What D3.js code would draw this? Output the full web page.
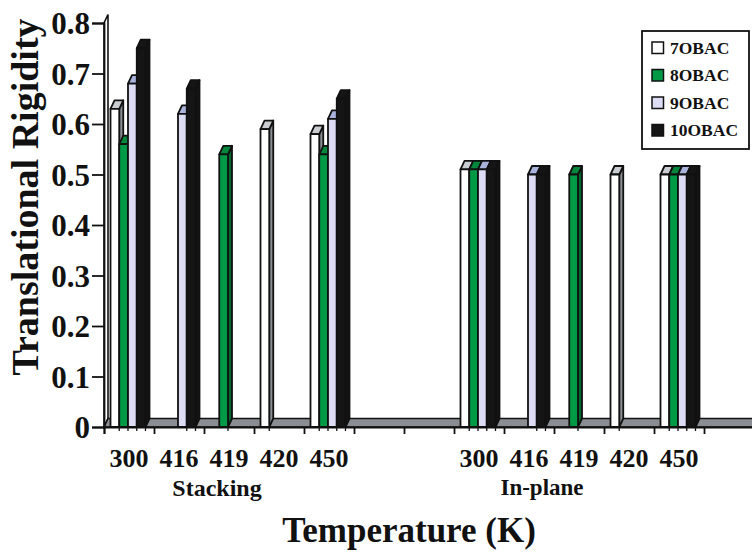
<!DOCTYPE html>
<html lang="en">
<head>
    <meta charset="UTF-8">
    <title>Translational Rigidity</title>
    <script src="https://d3js.org/d3.v7.min.js"></script>
    <style>
        body { margin: 0; background: #fff; }
        svg { display: block; font-family: "Liberation Serif", "Times New Roman", serif; font-weight: bold; }
    </style>
</head>
<body>
    <svg id="chart" width="752" height="552"></svg>

    <script>
        // data
        const temps = ["300", "416", "419", "420", "450"];
        const groups = ["Stacking", "In-plane"];
        const seriesNames = ["7OBAC", "8OBAC", "9OBAC", "10OBAC"];

        // values per series, one entry per temperature (null = no bar)
        const stacking7 = [0.63, null, null, 0.59, 0.58];
        const stacking8 = [0.56, null, 0.54, null, 0.54];
        const stacking9 = [0.68, 0.62, null, null, 0.61];
        const stacking10 = [0.75, 0.67, null, null, 0.65];

        const inplane7 = [0.51, null, null, 0.50, 0.50];
        const inplane8 = [0.51, null, 0.50, null, 0.50];
        const inplane9 = [0.51, 0.50, null, null, 0.50];
        const inplane10 = [0.51, 0.50, null, null, 0.50];

        const yTicks = [0, 0.1, 0.2, 0.3, 0.4, 0.5, 0.6, 0.7, 0.8];

        function program() {
            const svg = d3.select("#chart");

            // 13 slots along the axis: 5 stacking, 2 empty, 5 in-plane, 1 empty
            const slots = d3.range(13);
            const slotOf = (g, t) => g * 7 + t;

            const x = d3.scaleBand().domain(slots).range([104, 754]);
            const inner = d3.scaleBand().domain(seriesNames).range([6.5, 41.5]);
            const y = d3.scaleLinear().domain([0, 0.8]).range([427, 23]);

            const dx = 4, dy = 8.5; // depth offset for the 3D look
            const y0 = y(0);
            const ink = "#111";

            const colors = {
                "7OBAC": { front: "#ffffff", top: "#c9cdd1", side: "#8b8f94" },
                "8OBAC": { front: "#009a46", top: "#00873c", side: "#006a2e" },
                "9OBAC": { front: "#dcdcf5", top: "#a9b3dc", side: "#8b8fa8" },
                "10OBAC": { front: "#151515", top: "#151515", side: "#151515" }
            };

            const table = [
                [stacking7, stacking8, stacking9, stacking10],
                [inplane7, inplane8, inplane9, inplane10]
            ];

            const bars = [];
            groups.forEach((g, gi) => {
                temps.forEach((t, ti) => {
                    seriesNames.forEach((s, si) => {
                        const v = table[gi][si][ti];
                        if (v != null) bars.push({ slot: slotOf(gi, ti), series: s, value: v });
                    });
                });
            });

            // back wall along the y axis
            const xl = x.range()[0];
            svg.append("path")
                .attr("d", `M${xl},${y0}L${xl},${y(0.8)}L${xl + dx},${y(0.8) - dy}L${xl + dx},${y0 - dy}Z`)
                .attr("fill", "#fff").attr("stroke", ink).attr("stroke-width", 1.6);

            // floor
            const xr = x.range()[1];
            svg.append("path")
                .attr("d", `M${xl},${y0}L${xr},${y0}L${xr + dx},${y0 - dy}L${xl + dx},${y0 - dy}Z`)
                .attr("fill", "#8a8e93").attr("stroke", ink).attr("stroke-width", 1.6);

            // bars, left to right so each covers the side of the previous one
            const barG = svg.append("g")
                .attr("stroke", ink).attr("stroke-width", 1.8).attr("stroke-linejoin", "round");
            bars.forEach(b => {
                const bx = x(b.slot) + inner(b.series);
                const w = inner.bandwidth();
                const by = y(b.value);
                const c = colors[b.series];
                barG.append("path")
                    .attr("d", `M${bx + w},${by}L${bx + w + dx},${by - dy}L${bx + w + dx},${y0 - dy}L${bx + w},${y0}Z`)
                    .attr("fill", c.side);
                barG.append("path")
                    .attr("d", `M${bx},${by}L${bx + dx},${by - dy}L${bx + w + dx},${by - dy}L${bx + w},${by}Z`)
                    .attr("fill", c.top);
                barG.append("rect")
                    .attr("x", bx).attr("y", by)
                    .attr("width", w).attr("height", y0 - by)
                    .attr("fill", c.front);
                // small tick below the bar edge
                barG.append("line")
                    .attr("x1", bx + w).attr("x2", bx + w)
                    .attr("y1", y0).attr("y2", y0 + 4)
                    .attr("stroke-width", 1.3);
            });

            // x axis
            const xAxis = svg.append("g")
                .attr("transform", `translate(0,${y0})`)
                .call(d3.axisBottom(d3.scaleLinear().domain([0, 13]).range([xl, xr]))
                    .tickValues(d3.range(14)).tickSize(7).tickFormat(""));
            xAxis.select(".domain").attr("stroke", ink).attr("stroke-width", 1.8);
            xAxis.selectAll(".tick line").attr("stroke", ink).attr("stroke-width", 1.8);

            // temperature labels
            groups.forEach((g, gi) => {
                temps.forEach((t, ti) => {
                    svg.append("text")
                        .attr("x", x(slotOf(gi, ti)) + x.bandwidth() / 2)
                        .attr("y", 467)
                        .attr("text-anchor", "middle")
                        .attr("font-size", 26)
                        .attr("fill", ink)
                        .text(t);
                });
            });

            // group labels
            svg.append("text")
                .attr("x", x(slotOf(0, 2)) + 13).attr("y", 496)
                .attr("text-anchor", "middle").attr("font-size", 24).attr("fill", ink)
                .text(groups[0]);
            svg.append("text")
                .attr("x", x(slotOf(1, 1)) + 38).attr("y", 495)
                .attr("text-anchor", "middle").attr("font-size", 23).attr("fill", ink)
                .text(groups[1]);

            // y axis
            const yAxis = svg.append("g")
                .attr("transform", `translate(${xl},0)`)
                .call(d3.axisLeft(y).tickValues(yTicks).tickSize(12).tickPadding(2)
                    .tickFormat(d => d === 0 ? "0" : d3.format(".1f")(d)));
            yAxis.select(".domain").attr("stroke", ink).attr("stroke-width", 1.8);
            yAxis.selectAll(".tick line").attr("stroke", ink).attr("stroke-width", 1.8);
            yAxis.selectAll(".tick text")
                .attr("font-size", 31).attr("font-family", "Liberation Serif")
                .attr("font-weight", "bold").attr("fill", ink).attr("dy", "0.34em");

            // axis titles
            svg.append("text")
                .attr("transform", "translate(38,197) rotate(-90)")
                .attr("text-anchor", "middle").attr("font-size", 38).attr("fill", ink)
                .text("Translational Rigidity");
            svg.append("text")
                .attr("x", 409).attr("y", 542)
                .attr("text-anchor", "middle").attr("font-size", 35).attr("fill", ink)
                .text("Temperature (K)");

            // legend
            const legend = svg.append("g");
            legend.append("rect")
                .attr("x", 642).attr("y", 31).attr("width", 107).attr("height", 118)
                .attr("fill", "#fff").attr("stroke", ink).attr("stroke-width", 1.8);
            seriesNames.forEach((s, i) => {
                const ly = 53.5 + i * 27.5;
                legend.append("rect")
                    .attr("x", 652).attr("y", ly - 11.5).attr("width", 11.5).attr("height", 11.5)
                    .attr("fill", colors[s].front).attr("stroke", ink).attr("stroke-width", 1.5);
                legend.append("text")
                    .attr("x", 670).attr("y", ly)
                    .attr("font-size", 17.5).attr("fill", ink)
                    .text(s);
            });
        }

        program();
    </script>
</body>
</html>
